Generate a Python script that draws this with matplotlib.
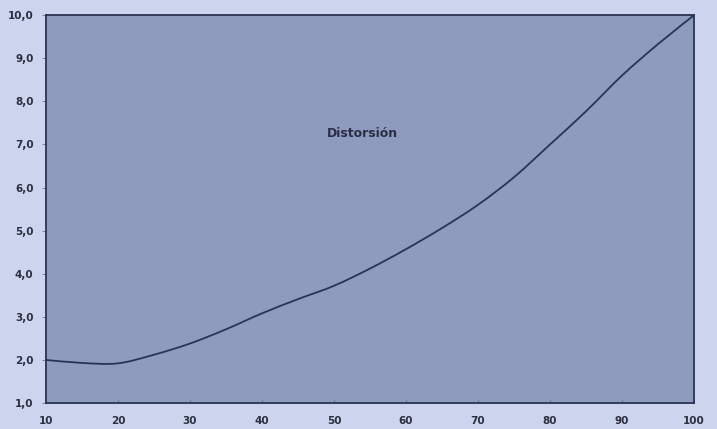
import matplotlib.pyplot as plt
from matplotlib.path import Path
from matplotlib.patches import PathPatch

# data
x_vals = [10, 15, 20, 25, 30, 35, 40, 45, 50, 55, 60, 65, 70, 75, 80, 85, 90, 95, 100]
distorsion = [2.0, 1.93, 1.92, 2.12, 2.38, 2.71, 3.08, 3.41, 3.72, 4.12, 4.57, 5.06,
              5.6, 6.24, 7.0, 7.77, 8.6, 9.33, 10.0]
x_ticks = list(range(10, 101, 10))
y_ticks = [1, 2, 3, 4, 5, 6, 7, 8, 9, 10]

fig = plt.figure(figsize=(7.17, 4.29), dpi=100, facecolor='#cdd5ee')
ax = fig.add_axes([0.064, 0.0606, 0.904, 0.904])
ax.set_facecolor('#8f9bbe')

# smoothed line (Excel-style) drawn as bezier segments through the data points
verts = [(x_vals[0], distorsion[0])]
codes = [Path.MOVETO]
n = len(x_vals)
for i in range(n - 1):
    x0, y0 = x_vals[max(i - 1, 0)], distorsion[max(i - 1, 0)]
    x1, y1 = x_vals[i], distorsion[i]
    x2, y2 = x_vals[i + 1], distorsion[i + 1]
    x3, y3 = x_vals[min(i + 2, n - 1)], distorsion[min(i + 2, n - 1)]
    c1 = (x1 + (x2 - x0) / 6, y1 + (y2 - y0) / 6)
    c2 = (x2 - (x3 - x1) / 6, y2 - (y3 - y1) / 6)
    verts += [c1, c2, (x2, y2)]
    codes += [Path.CURVE4] * 3
ax.add_patch(PathPatch(Path(verts, codes), facecolor='none',
                       edgecolor='#2b3352', linewidth=1.3))

ax.set_xlim(10, 100)
ax.set_ylim(1, 10)

ax.set_xticks(x_ticks)
ax.set_xticklabels([str(t) for t in x_ticks], fontsize=7.5, fontweight='bold', color='#2a2e40')
ax.set_yticks(y_ticks)
ax.set_yticklabels([f'{t:.1f}'.replace('.', ',') for t in y_ticks],
                   fontsize=7.5, fontweight='bold', color='#2a2e40')
ax.tick_params(axis='both', length=3, width=0.6, color='#6a7290', pad=6)
ax.tick_params(axis='x', direction='in', pad=9)

for s in ax.spines.values():
    s.set_color('#2b3352')
    s.set_linewidth(1.3)

ax.text(53.9, 7.25, 'Distorsión', fontsize=9, fontweight='bold', color='#2a2e45',
        ha='center', va='center')

plt.savefig('out.png', dpi=100, facecolor=fig.get_facecolor())
